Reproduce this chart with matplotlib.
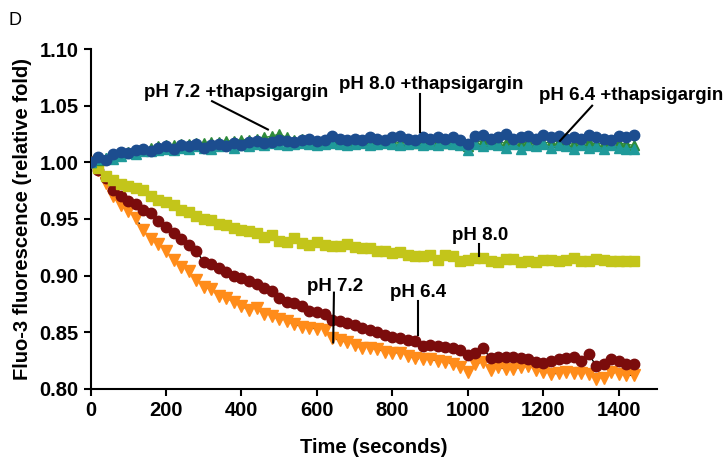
import matplotlib
matplotlib.use("Agg")
import matplotlib.pyplot as plt

plt.rcParams['font.family'] = ['Liberation Sans', 'DejaVu Sans']

times = list(range(0, 1460, 20))

ph64 = [1.000, 0.993, 0.982, 0.970, 0.962, 0.957, 0.951, 0.940, 0.932, 0.928,
        0.922, 0.914, 0.908, 0.904, 0.896, 0.890, 0.888, 0.882, 0.880, 0.877,
        0.873, 0.870, 0.871, 0.866, 0.864, 0.862, 0.860, 0.857, 0.855, 0.854,
        0.853, 0.852, 0.845, 0.843, 0.841, 0.839, 0.836, 0.836, 0.835, 0.833,
        0.832, 0.832, 0.829, 0.827, 0.826, 0.826, 0.825, 0.824, 0.822, 0.819,
        0.815, 0.822, 0.824, 0.817, 0.819, 0.818, 0.818, 0.819, 0.820, 0.817,
        0.815, 0.813, 0.814, 0.815, 0.814, 0.814, 0.813, 0.809, 0.810, 0.815,
        0.813, 0.812, 0.812]

ph72 = [1.000, 0.993, 0.986, 0.976, 0.970, 0.966, 0.963, 0.958, 0.955, 0.948,
        0.943, 0.938, 0.932, 0.927, 0.922, 0.912, 0.910, 0.907, 0.903, 0.900,
        0.898, 0.895, 0.893, 0.889, 0.886, 0.880, 0.877, 0.876, 0.873, 0.869,
        0.868, 0.866, 0.861, 0.860, 0.858, 0.856, 0.854, 0.852, 0.850, 0.848,
        0.846, 0.845, 0.843, 0.842, 0.838, 0.839, 0.838, 0.837, 0.836, 0.834,
        0.830, 0.832, 0.836, 0.827, 0.828, 0.828, 0.828, 0.827, 0.826, 0.824,
        0.823, 0.825, 0.826, 0.827, 0.828, 0.825, 0.831, 0.820, 0.822, 0.826,
        0.825, 0.822, 0.822]

ph80 = [1.000, 0.995, 0.988, 0.984, 0.981, 0.979, 0.977, 0.976, 0.970, 0.967,
        0.965, 0.962, 0.958, 0.956, 0.953, 0.950, 0.949, 0.946, 0.945, 0.942,
        0.940, 0.939, 0.938, 0.934, 0.936, 0.931, 0.930, 0.933, 0.929, 0.927,
        0.930, 0.927, 0.926, 0.926, 0.928, 0.925, 0.924, 0.924, 0.922, 0.922,
        0.920, 0.921, 0.918, 0.917, 0.917, 0.918, 0.914, 0.918, 0.917, 0.913,
        0.914, 0.916, 0.916, 0.913, 0.912, 0.915, 0.915, 0.912, 0.913, 0.912,
        0.914, 0.914, 0.913, 0.914, 0.916, 0.913, 0.913, 0.915, 0.914, 0.913,
        0.913, 0.913, 0.913]

ph80_thaps = [1.000, 1.005, 1.002, 1.007, 1.009, 1.008, 1.011, 1.012, 1.010, 1.013,
              1.014, 1.012, 1.015, 1.014, 1.016, 1.013, 1.015, 1.016, 1.014, 1.017,
              1.015, 1.018, 1.019, 1.017, 1.018, 1.020, 1.019, 1.018, 1.020, 1.021,
              1.019, 1.020, 1.023, 1.021, 1.020, 1.021, 1.020, 1.022, 1.021, 1.020,
              1.022, 1.023, 1.021, 1.020, 1.022, 1.021, 1.022, 1.021, 1.022, 1.020,
              1.016, 1.023, 1.024, 1.021, 1.022, 1.025, 1.021, 1.022, 1.023, 1.021,
              1.024, 1.022, 1.023, 1.021, 1.022, 1.021, 1.024, 1.022, 1.021, 1.020,
              1.023, 1.022, 1.024]

ph64_thaps = [1.000, 1.003, 1.004, 1.003, 1.006, 1.008, 1.007, 1.010, 1.010, 1.011,
              1.012, 1.011, 1.013, 1.012, 1.014, 1.013, 1.012, 1.014, 1.015, 1.013,
              1.015, 1.014, 1.016, 1.015, 1.017, 1.016, 1.015, 1.016, 1.017, 1.016,
              1.015, 1.016, 1.017, 1.016, 1.015, 1.016, 1.017, 1.015, 1.016, 1.017,
              1.016, 1.015, 1.016, 1.017, 1.015, 1.016, 1.015, 1.017, 1.016, 1.015,
              1.011, 1.016, 1.014, 1.016, 1.015, 1.013, 1.016, 1.012, 1.015, 1.014,
              1.016, 1.013, 1.015, 1.014, 1.012, 1.015, 1.013, 1.014, 1.012, 1.015,
              1.013, 1.012, 1.012]

ph72_thaps = [1.000, 1.002, 1.004, 1.006, 1.008, 1.009, 1.011, 1.012, 1.013, 1.014,
              1.015, 1.015, 1.016, 1.016, 1.017, 1.017, 1.018, 1.018, 1.019, 1.019,
              1.020, 1.020, 1.021, 1.022, 1.023, 1.025, 1.022, 1.020, 1.021, 1.020,
              1.019, 1.020, 1.019, 1.018, 1.019, 1.018, 1.019, 1.018, 1.017, 1.018,
              1.019, 1.017, 1.018, 1.017, 1.018, 1.017, 1.018, 1.017, 1.018, 1.016,
              1.014, 1.018, 1.019, 1.017, 1.018, 1.017, 1.018, 1.017, 1.018, 1.016,
              1.017, 1.018, 1.019, 1.017, 1.016, 1.017, 1.018, 1.016, 1.017, 1.016,
              1.017, 1.016, 1.015]

x_ticks = [0, 200, 400, 600, 800, 1000, 1200, 1400]
y_ticks = [0.80, 0.85, 0.90, 0.95, 1.00, 1.05, 1.10]

fig = plt.figure(figsize=(7.24, 4.63), dpi=100)
ax = fig.add_axes([0.125, 0.160, 0.782, 0.734])

ms = 7.5
# decreasing series
ax.plot(times, ph64, color='black', lw=1.0, ls=(0, (2, 2)), marker='v', ms=ms + 0.5,
        mfc='#ff8c1a', mec='#ff8c1a', zorder=2)
ax.plot(times, ph72, color='black', lw=1.0, marker='o', ms=ms,
        mfc='#7b0c0c', mec='#7b0c0c', zorder=3)
ax.plot(times, ph80, color='#c3c51a', lw=1.0, marker='s', ms=ms - 0.5,
        mfc='#c3c51a', mec='#c3c51a', zorder=3)
# thapsigargin series
ax.plot(times, ph72_thaps, color='#2e8b3a', lw=1.0, marker='^', ms=ms,
        mfc='#2e8b3a', mec='#2e8b3a', zorder=4)
ax.plot(times, ph64_thaps, color='#1f9a9a', lw=1.0, marker='^', ms=ms,
        mfc='#1f9a9a', mec='#1f9a9a', zorder=5)
ax.plot(times, ph80_thaps, color='#1c4d8f', lw=1.0, marker='o', ms=ms,
        mfc='#1c4d8f', mec='#1c4d8f', zorder=6)

ax.set_xlim(0, 1500)
ax.set_ylim(0.80, 1.10)
ax.set_xticks(x_ticks)
ax.set_yticks(y_ticks)
ax.set_yticklabels([f"{v:.2f}" for v in y_ticks])
for s in ['top', 'right']:
    ax.spines[s].set_visible(False)
for s in ['left', 'bottom']:
    ax.spines[s].set_linewidth(1.5)
ax.tick_params(direction='out', length=5, width=1.5, labelsize=14.5)
for lab in ax.get_xticklabels() + ax.get_yticklabels():
    lab.set_fontweight('bold')

ax.set_xlabel('Time (seconds)', fontsize=14.5, fontweight='bold', labelpad=13)
ax.set_ylabel('Fluo-3 fluorescence (relative fold)', fontsize=14.5, fontweight='bold', labelpad=5)

fs = 13.5
ann = dict(fontsize=fs, fontweight='bold', ha='center', va='center', zorder=10)
ax.text(386, 1.062, 'pH 7.2 +thapsigargin', **ann)
ax.plot([322, 470], [1.054, 1.029], color='black', lw=1.5, zorder=10)
ax.text(902, 1.069, 'pH 8.0 +thapsigargin', **ann)
ax.plot([873, 873], [1.060, 1.027], color='black', lw=1.5, zorder=10)
ax.text(1432, 1.059, 'pH 6.4 +thapsigargin', clip_on=False, **ann)
ax.plot([1329, 1244], [1.050, 1.019], color='black', lw=1.5, zorder=10)
ax.text(1032, 0.935, 'pH 8.0', **ann)
ax.plot([1029, 1029], [0.928, 0.917], color='black', lw=1.5, zorder=10)
ax.text(648, 0.890, 'pH 7.2', **ann)
ax.plot([645, 643], [0.885, 0.841], color='black', lw=1.5, zorder=10)
ax.text(868, 0.885, 'pH 6.4', **ann)
ax.plot([868, 868], [0.878, 0.848], color='black', lw=1.5, zorder=10)

fig.text(0.012, 0.975, 'D', fontsize=13, ha='left', va='top')

fig.savefig('out.png', dpi=100)
